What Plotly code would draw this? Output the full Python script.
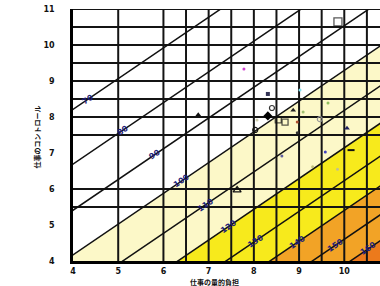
import plotly.graph_objects as go

# ---- data ----
x_ticks = [4, 5, 6, 7, 8, 9, 10]
y_ticks = [4, 5, 6, 7, 8, 9, 10, 11]

# health-risk lines: label, value of y at x = 4, common slope
risk_levels = [70, 80, 90, 100, 110, 120, 130, 140, 150, 160]
risk_y_at_4 = [8.21, 6.69, 5.41, 4.17, 3.06, 2.02, 1.11, 0.28, -0.52, -1.24]
risk_slope = 0.854
risk_label_x = [4.33, 5.10, 5.81, 6.41, 6.92, 7.45, 8.03, 8.96, 9.80, 10.53]

# colour bands (below the given risk line)
band_levels = [100, 120, 140, 160]
band_colors = ["#fcf8c8", "#f7ea1c", "#f2a326", "#ec7a1c"]

# grid positions
grid_x = [5, 6, 6.5, 7, 7.5, 8, 8.5, 9, 9.5, 10, 10.5]
grid_y = [5.5, 6, 7.5, 8, 8.5, 9, 9.5, 10, 10.5, 11]

# scatter groups
sq_open_x = [9.86, 8.54, 8.69]
sq_open_y = [10.64, 7.92, 7.86]
sq_open_size = [8, 6, 6]
sq_dark_x = [8.31]
sq_dark_y = [8.64]
tri_fill_x = [6.77, 8.87, 10.06]
tri_fill_y = [8.06, 8.19, 7.69]
tri_fill_col = ["#111111", "#222222", "#202060"]
tri_open_x = [7.63]
tri_open_y = [5.97]
circ_open_x = [8.40, 8.03, 9.46]
circ_open_y = [8.25, 7.64, 7.94]
circ_open_col = ["#333333", "#111111", "#999999"]
mean_x = [8.31]
mean_y = [8.03]
dot_x = [7.78, 9.02, 8.96, 8.96, 9.64, 9.09, 8.07, 9.58, 8.62, 9.30, 9.85]
dot_y = [9.33, 8.75, 7.86, 7.56, 8.39, 8.14, 7.92, 7.03, 6.92, 6.62, 6.55]
dot_col = ["#d040d0", "#80e0f0", "#b05030", "#333333", "#90c060", "#a0c070",
           "#d0d0b0", "#4040c0", "#6060a0", "#c0c080", "#c0c090"]
dash_x = [10.15]
dash_y = [7.08]

X0, X1 = 4, 10.79
Y0, Y1 = 4, 11


def line_y(i, x):
    return risk_y_at_4[i] + risk_slope * (x - 4)


fig = go.Figure()

# bands
for lvl, col in zip(band_levels, band_colors):
    i = risk_levels.index(lvl)
    fig.add_trace(go.Scatter(
        x=[3, 12, 12, 3], y=[line_y(i, 3), line_y(i, 12), -20, -20],
        fill="toself", fillcolor=col, mode="none", hoverinfo="skip",
        showlegend=False))

# grid
gx, gy = [], []
for v in grid_x:
    gx += [v, v, None]
    gy += [Y0, Y1, None]
for v in grid_y:
    gx += [X0, 12, None]
    gy += [v, v, None]
fig.add_trace(go.Scatter(x=gx, y=gy, mode="lines",
                         line=dict(color="#141414", width=2),
                         hoverinfo="skip", showlegend=False))

# risk lines
for i, lvl in enumerate(risk_levels):
    fig.add_trace(go.Scatter(
        x=[3, 12], y=[line_y(i, 3), line_y(i, 12)], mode="lines",
        line=dict(color="#111111", width=1.5), hoverinfo="skip",
        showlegend=False))

# markers
fig.add_trace(go.Scatter(x=sq_open_x, y=sq_open_y, mode="markers",
                         marker=dict(symbol="square-open", size=sq_open_size,
                                     color="#111111", line=dict(width=1.3)),
                         showlegend=False))
fig.add_trace(go.Scatter(x=sq_dark_x, y=sq_dark_y, mode="markers",
                         marker=dict(symbol="square", size=4, color="#333355"),
                         showlegend=False))
fig.add_trace(go.Scatter(x=tri_fill_x, y=tri_fill_y, mode="markers",
                         marker=dict(symbol="triangle-up", size=5, color=tri_fill_col),
                         showlegend=False))
fig.add_trace(go.Scatter(x=tri_open_x, y=tri_open_y, mode="markers",
                         marker=dict(symbol="triangle-up-open", size=7, color="#111111",
                                     line=dict(width=1.2)),
                         showlegend=False))
fig.add_trace(go.Scatter(x=circ_open_x, y=circ_open_y, mode="markers",
                         marker=dict(symbol="circle-open", size=5, color=circ_open_col,
                                     line=dict(width=1.2)),
                         showlegend=False))
fig.add_trace(go.Scatter(x=mean_x, y=mean_y, mode="markers",
                         marker=dict(symbol="diamond", size=7, color="#000000"),
                         showlegend=False))
fig.add_trace(go.Scatter(x=dot_x, y=dot_y, mode="markers",
                         marker=dict(symbol="circle", size=3, color=dot_col),
                         showlegend=False))
fig.add_trace(go.Scatter(x=dash_x, y=dash_y, mode="markers",
                         marker=dict(symbol="line-ew-open", size=5, color="#111111",
                                     line=dict(width=2)),
                         showlegend=False))

# line labels
annotations = []
for i, lvl in enumerate(risk_levels):
    lx = risk_label_x[i]
    annotations.append(dict(
        x=lx, y=line_y(i, lx), xref="x", yref="y", text="<b>%d</b>" % lvl,
        showarrow=False, textangle=-34,
        font=dict(family="DejaVu Sans", size=8, color="#1e1e78")))

annotations.append(dict(
    x=0.4625, y=-0.082, xref="paper", yref="paper", text="<b>仕事の量的負担</b>",
    showarrow=False, yanchor="middle",
    font=dict(family="Noto Sans CJK JP", size=7, color="#111111")))
annotations.append(dict(
    x=-0.14, y=0.49, xref="paper", yref="paper", text="<b>仕事のコントロール</b>",
    showarrow=False, textangle=-90,
    font=dict(family="Noto Sans CJK JP", size=7, color="#111111")))

fig.update_layout(
    width=380, height=286,
    margin=dict(l=73, r=0, t=9, b=25),
    paper_bgcolor="white", plot_bgcolor="white",
    annotations=annotations,
    xaxis=dict(range=[X0, X1], tickvals=x_ticks, ticktext=["<b>%d</b>" % v for v in x_ticks],
               showgrid=False, zeroline=False, showline=True, linecolor="#000000",
               linewidth=2.5, ticks="", ticklabelstandoff=1,
               tickfont=dict(family="DejaVu Sans", size=8, color="#111111")),
    yaxis=dict(range=[Y0, Y1], tickvals=y_ticks, ticktext=["<b>%d</b>" % v for v in y_ticks],
               showgrid=False, zeroline=False, showline=True, linecolor="#000000",
               linewidth=2.5, ticks="", ticklabelstandoff=14,
               tickfont=dict(family="DejaVu Sans", size=8, color="#111111")),
)

fig.write_html("out.html", config={"displayModeBar": False},
               post_script="document.body.style.margin='0';")
